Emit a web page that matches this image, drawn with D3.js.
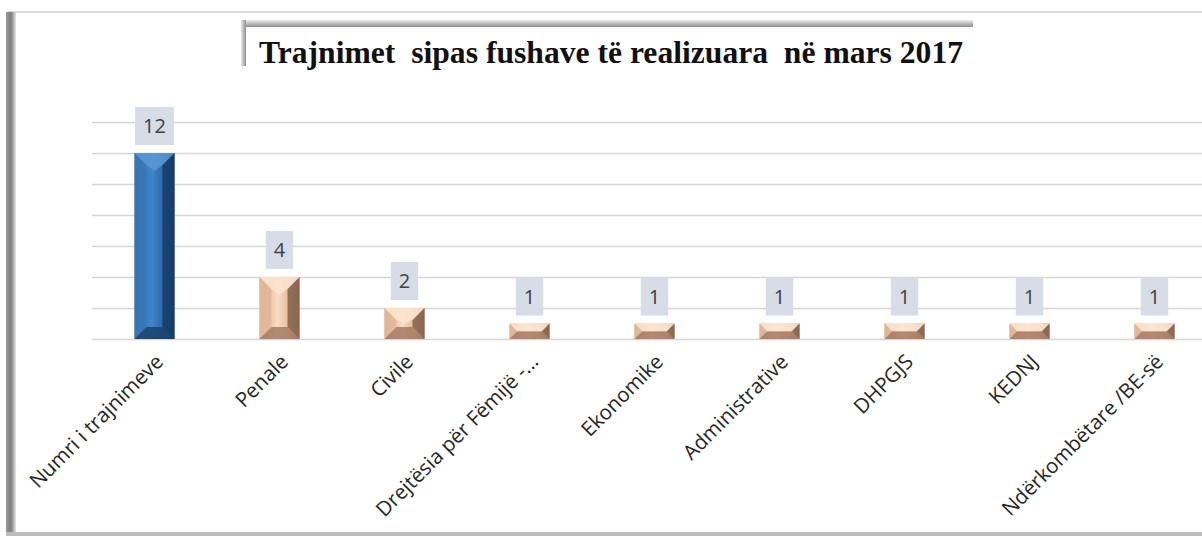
<!DOCTYPE html>
<html lang="sq">
<head>
    <meta charset="UTF-8">
    <title>Trajnimet sipas fushave</title>
    <script src="https://d3js.org/d3.v7.min.js" charset="utf-8"></script>
    <style>
        body{margin:0;background:#fff;}
        svg{display:block;}
    </style>
</head>
<body>
    <svg></svg>
    <script>
        //chart data
        var titleText = "Trajnimet  sipas fushave të realizuara  në mars 2017";
        var categories = ["Numri i trajnimeve","Penale","Civile","Drejtësia për Fëmijë -...","Ekonomike","Administrative","DHPGJS","KEDNJ","Ndërkombëtare /BE-së"];
        var values = [12,4,2,1,1,1,1,1,1];
        var yTicks = [0,2,4,6,8,10,12,14];

        var width = 1202, height = 538;
        var plot = {left:92, right:1217, top:122, bottom:339};

        var svg = d3.select("svg")
            .attr("width",width)
            .attr("height",height);

        var defs = svg.append("defs");
        //bar body gradients
        function hGrad(id, stops){
            var g = defs.append("linearGradient").attr("id",id)
                .attr("x1","0").attr("x2","1").attr("y1","0").attr("y2","0");
            stops.forEach(function(s){
                g.append("stop").attr("offset",s[0]).attr("stop-color",s[1]);
            });
        }
        hGrad("blueBody",[[0,"#3570b0"],[0.45,"#3d85cc"],[0.7,"#2d68a8"],[1,"#1b4577"]]);
        hGrad("tanBody",[[0,"#d9ac8c"],[0.45,"#f8dcc4"],[0.75,"#e4b998"],[1,"#a07a64"]]);
        hGrad("frameLeft",[[0,"#9a9a9a"],[0.5,"#7d7d7d"],[1,"#e6e6e6"]]);
        var vg = defs.append("linearGradient").attr("id","titleShadowTop")
            .attr("x1","0").attr("x2","0").attr("y1","0").attr("y2","1");
        vg.append("stop").attr("offset",0).attr("stop-color","#f0f0f0");
        vg.append("stop").attr("offset",1).attr("stop-color","#8e8e8e");
        hGrad("titleShadowLeft",[[0,"#e8e8e8"],[1,"#8e8e8e"]]);

        //outer frame
        svg.append("line").attr("x1",8).attr("x2",width).attr("y1",12).attr("y2",12)
            .attr("stroke","#dcdcdc").attr("stroke-width",2);
        svg.append("rect").attr("x",6).attr("y",12).attr("width",10).attr("height",524)
            .attr("fill","url(#frameLeft)");
        svg.append("rect").attr("x",6).attr("y",532).attr("width",width).attr("height",4)
            .attr("fill","#bdbdbd");

        //scales
        var x = d3.scaleBand()
            .domain(categories)
            .range([plot.left,plot.right])
            .paddingInner(0.68)
            .paddingOuter(0.34);
        var y = d3.scaleLinear()
            .domain([0,14])
            .range([plot.bottom,plot.top]);

        //grid
        var grid = svg.append("g")
            .attr("transform","translate("+plot.left+",0)")
            .call(d3.axisLeft(y).tickValues(yTicks).tickSize(-(width-plot.left)).tickFormat(""));
        grid.select(".domain").remove();
        grid.selectAll(".tick line").attr("stroke","#ddd3d3").attr("stroke-width",1.6);

        //bars
        var bars = svg.append("g")
            .selectAll("g")
            .data(values)
            .enter()
            .append("g");
        bars.append("rect")
            .attr("x",function(d,i){return x(categories[i]);})
            .attr("y",function(d){return y(d);})
            .attr("width",x.bandwidth())
            .attr("height",function(d){return y(0)-y(d);})
            .attr("fill",function(d,i){return i===0 ? "url(#blueBody)" : "url(#tanBody)";});

        //bevel edges, top one is a chevron
        var bevelColors = [
            {top:"#5a98d6",left:"#3a76b6",right:"#163c66",bottom:"#1a416d"},
            {top:"#fbe6d2",left:"#e2b697",right:"#86614e",bottom:"#a47b63"}
        ];
        bars.each(function(d,i){
            var g = d3.select(this);
            var x0 = x(categories[i]), x1 = x0 + x.bandwidth();
            var cx = (x0+x1)/2;
            var y0 = y(d), y1 = y(0);
            var b = Math.min(12, (y1-y0)/2, x.bandwidth()/2 - 4);
            var v = Math.min(18, (y1-y0)/2);
            var c = bevelColors[i===0 ? 0 : 1];
            var polys = [
                {p:[[x0,y0],[x0+b,y0+b],[x0+b,y1-b],[x0,y1]],f:c.left},
                {p:[[x1,y0],[x1-b,y0+b],[x1-b,y1-b],[x1,y1]],f:c.right},
                {p:[[x0,y1],[x0+b,y1-b],[x1-b,y1-b],[x1,y1]],f:c.bottom},
                {p:[[x0,y0],[x1,y0],[x1-b,y0+b],[cx,y0+v],[x0+b,y0+b]],f:c.top}
            ];
            polys.forEach(function(q){
                g.append("polygon")
                    .attr("points",q.p.map(function(pt){return pt.join(",");}).join(" "))
                    .attr("fill",q.f)
                    .attr("opacity",0.85);
            });
        });

        //value labels with boxes
        var labels = svg.append("g")
            .selectAll("g")
            .data(values)
            .enter()
            .append("g")
            .attr("transform",function(d,i){
                return "translate("+(x(categories[i])+x.bandwidth()/2)+","+(y(d)-27)+")";
            });
        labels.each(function(d){
            var g = d3.select(this);
            var t = g.append("text")
                .attr("text-anchor","middle")
                .attr("y",7)
                .attr("font-family","'Open Sans', sans-serif")
                .attr("font-size",20)
                .attr("fill","#404040")
                .text(d);
            var w = t.node().getComputedTextLength() + 16;
            g.insert("rect","text")
                .attr("x",-w/2)
                .attr("y",-19)
                .attr("width",w)
                .attr("height",38)
                .attr("fill","#d6dde7");
        });

        //category labels
        svg.append("g")
            .selectAll("text")
            .data(categories)
            .enter()
            .append("text")
            .attr("transform",function(d){
                return "translate("+(x(d)+x.bandwidth()/2+10)+",363) rotate(-45)";
            })
            .attr("text-anchor","end")
            .attr("font-family","'Open Sans', sans-serif")
            .attr("font-size",20.5)
            .attr("fill","#262626")
            .text(function(d){return d;});

        //title box
        var tb = {x:241, y:20, w:732, h:52};
        svg.append("rect").attr("x",tb.x).attr("y",tb.y).attr("width",tb.w).attr("height",tb.h)
            .attr("fill","#fff");
        svg.append("rect").attr("x",tb.x).attr("y",tb.y).attr("width",tb.w).attr("height",7)
            .attr("fill","url(#titleShadowTop)");
        svg.append("rect").attr("x",tb.x).attr("y",tb.y).attr("width",5).attr("height",tb.h-6)
            .attr("fill","url(#titleShadowLeft)");
        svg.append("text")
            .attr("x",259)
            .attr("y",63)
            .attr("font-family","'Liberation Serif', 'Times New Roman', serif")
            .attr("font-weight","bold")
            .attr("font-size",31)
            .attr("textLength",704)
            .attr("lengthAdjust","spacingAndGlyphs")
            .attr("fill","#111")
            .style("white-space","pre")
            .text(titleText);
    </script>
</body>
</html>
